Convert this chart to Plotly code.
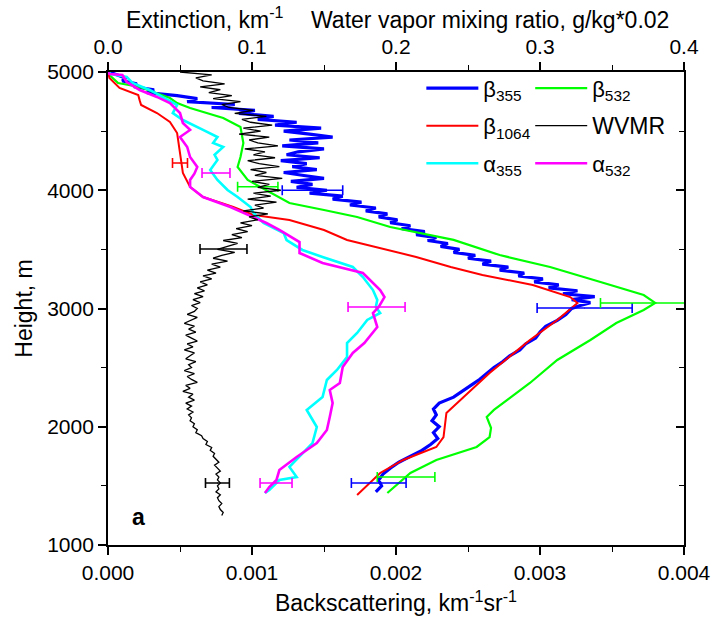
import plotly.graph_objects as go

# ---------------- data ----------------
# beta 355 (backscattering, km^-1 sr^-1), noisy profile: 25 m grid 5000->3000, 50 m grid 2950->1450
b355_top = [0.00001, 0.00006, 0.00012, 0.00010, 0.00020, 0.00018, 0.00032, 0.00027, 0.00048, 0.00062,
            0.00055, 0.00088, 0.00072, 0.00102, 0.00091, 0.00115, 0.00104, 0.00131, 0.00116, 0.00148,
            0.00122, 0.00140, 0.00156, 0.00126, 0.00146, 0.00121, 0.00150, 0.00132, 0.00124, 0.00147,
            0.00120, 0.00138, 0.00128, 0.00145, 0.00122, 0.00136, 0.00150, 0.00127, 0.00142, 0.00131,
            0.00152, 0.00140, 0.00163, 0.00156, 0.00176, 0.00168, 0.00186, 0.00179, 0.00194, 0.00188,
            0.00201, 0.00196, 0.00210, 0.00204, 0.00220, 0.00214, 0.00228, 0.00222, 0.00236, 0.00231,
            0.00244, 0.00240, 0.00255, 0.00250, 0.00266, 0.00260, 0.00278, 0.00272, 0.00289, 0.00285,
            0.00302, 0.00296, 0.00313, 0.00306, 0.00326, 0.00316, 0.00338, 0.00322, 0.00335, 0.00328,
            0.00322]
b355_low = [0.00318, 0.00312, 0.00304, 0.00300, 0.00297, 0.00290, 0.00286, 0.00279, 0.00274, 0.00268,
            0.00263, 0.00258, 0.00252, 0.00246, 0.00240, 0.00230, 0.00226, 0.00228, 0.00225, 0.00230,
            0.00226, 0.00229, 0.00224, 0.00218, 0.00210, 0.00202, 0.00196, 0.00191, 0.00188, 0.00190,
            0.00186]
b355_h = [5000 - 25 * i for i in range(len(b355_top))] + [2950 - 50 * i for i in range(len(b355_low))]
b355 = b355_top + b355_low

# beta 532
b532_h = [5000, 4975, 4907, 4873, 4780, 4737, 4696, 4611, 4535, 4400, 4281, 4197, 4087, 3977, 3892,
          3833, 3774, 3689, 3580, 3452, 3351, 3224, 3114, 3047, 2987, 2877, 2734, 2565, 2370, 2142,
          2083, 1990, 1913, 1829, 1719, 1609, 1440]
b532 = [0.0, 0.00001, 0.00007, 0.00022, 0.00043, 0.00048, 0.00057, 0.00080, 0.00092, 0.00094, 0.00092,
        0.00090, 0.00097, 0.00113, 0.00126, 0.00150, 0.00173, 0.00196, 0.00240, 0.00272, 0.00307,
        0.00342, 0.00372, 0.00380, 0.00372, 0.00353, 0.00335, 0.00312, 0.00293, 0.00268, 0.00263,
        0.00266, 0.00265, 0.00256, 0.00228, 0.00210, 0.00194]

# beta 1064
b1064_h = [5000, 4950, 4865, 4806, 4760, 4721, 4653, 4577, 4484, 4315, 4146, 4028, 3943, 3858, 3791,
           3748, 3664, 3579, 3495, 3436, 3351, 3283, 3199, 3097, 3047, 2903, 2734, 2455, 2252, 2116,
           1913, 1829, 1719, 1609, 1423]
b1064 = [0.0, 0.00001, 0.00008, 0.00021, 0.00022, 0.00023, 0.00034, 0.00043, 0.00048, 0.00050, 0.00052,
         0.00057, 0.00066, 0.00087, 0.00101, 0.00126, 0.00150, 0.00166, 0.00193, 0.00214, 0.00238,
         0.00260, 0.00295, 0.00321, 0.00326, 0.00312, 0.00293, 0.00265, 0.00247, 0.00235, 0.00233,
         0.00228, 0.00205, 0.00189, 0.00173]

# alpha 355 (extinction, km^-1)
a355_h = [5000, 4983, 4958, 4907, 4848, 4789, 4721, 4653, 4594, 4510, 4450, 4400, 4366, 4300, 4256,
          4171, 4087, 4002, 3943, 3858, 3808, 3723, 3638, 3579, 3495, 3436, 3351, 3266, 3156, 3072,
          3013, 2962, 2903, 2793, 2708, 2590, 2480, 2395, 2252, 2142, 1998, 1862, 1777, 1660, 1575,
          1550, 1465, 1440]
a355 = [0.0, 0.002, 0.013, 0.017, 0.029, 0.038, 0.048, 0.045, 0.052, 0.066, 0.076, 0.073, 0.080, 0.074,
        0.076, 0.071, 0.076, 0.083, 0.090, 0.099, 0.101, 0.108, 0.122, 0.124, 0.135, 0.149, 0.170, 0.177,
        0.184, 0.187, 0.186, 0.189, 0.180, 0.173, 0.166, 0.166, 0.159, 0.152, 0.149, 0.138, 0.145, 0.142,
        0.135, 0.126, 0.131, 0.119, 0.112, 0.109]

# alpha 532
a532_h = [5000, 4983, 4975, 4915, 4848, 4789, 4737, 4653, 4569, 4510, 4450, 4366, 4281, 4197, 4140,
          4087, 4028, 3943, 3858, 3791, 3723, 3664, 3562, 3469, 3385, 3300, 3156, 3097, 3013, 2962,
          2843, 2708, 2624, 2505, 2370, 2311, 2200, 2083, 1972, 1862, 1744, 1634, 1550, 1490, 1440]
a532 = [0.0, 0.001, 0.010, 0.013, 0.022, 0.034, 0.043, 0.050, 0.052, 0.057, 0.050, 0.055, 0.057, 0.062,
        0.060, 0.057, 0.057, 0.066, 0.085, 0.097, 0.110, 0.119, 0.133, 0.133, 0.149, 0.177, 0.189, 0.192,
        0.188, 0.184, 0.187, 0.178, 0.170, 0.163, 0.161, 0.154, 0.156, 0.154, 0.152, 0.145, 0.131, 0.119,
        0.117, 0.112, 0.109]

# water vapor mixing ratio (g/kg*0.02), 25 m grid 5000->1250
wv_top = [0.050, 0.072, 0.061, 0.066, 0.081, 0.064, 0.078, 0.070, 0.086, 0.073,
          0.092, 0.079, 0.084, 0.101, 0.088, 0.110, 0.093, 0.099, 0.114, 0.094,
          0.106, 0.091, 0.112, 0.098, 0.104, 0.118, 0.095, 0.109, 0.101, 0.116,
          0.097, 0.105, 0.119, 0.099, 0.110, 0.102, 0.121, 0.100, 0.112, 0.104,
          0.120, 0.101, 0.113, 0.097, 0.117, 0.102, 0.108, 0.094, 0.111, 0.098,
          0.104, 0.092, 0.100, 0.089, 0.097, 0.086, 0.093, 0.080, 0.090, 0.083,
          0.076, 0.088, 0.079, 0.073, 0.083, 0.072, 0.078, 0.069, 0.075, 0.066,
          0.072, 0.064, 0.069, 0.062, 0.067, 0.060, 0.066, 0.059, 0.064, 0.058,
          0.062]
wv_low = [0.060, 0.055, 0.062, 0.057, 0.053, 0.060, 0.056, 0.061, 0.054, 0.058,
          0.062, 0.055, 0.059, 0.053, 0.060, 0.057, 0.054, 0.061, 0.056, 0.058,
          0.053, 0.060, 0.055, 0.058, 0.062, 0.054, 0.057, 0.052, 0.059, 0.056,
          0.060, 0.054, 0.058, 0.055, 0.059, 0.056, 0.058, 0.057, 0.060, 0.059,
          0.062, 0.061, 0.065, 0.066, 0.069, 0.068, 0.072, 0.071, 0.074, 0.073,
          0.075, 0.077, 0.074, 0.076, 0.078, 0.075, 0.077, 0.076, 0.078, 0.076,
          0.077, 0.075, 0.078, 0.076, 0.077, 0.079, 0.077, 0.078, 0.080, 0.079]
wv_h = [5000 - 25 * i for i in range(len(wv_top))] + [2975 - 25 * i for i in range(len(wv_low))]
wv = wv_top + wv_low

# error bars
b355_err_h, b355_err_x, b355_err_dx = [4000, 3004, 1524], [0.00142, 0.00331, 0.00188], [0.00021, 0.00033, 0.00019]
b532_err_h, b532_err_x, b532_err_dx = [4030, 3047, 1575], [0.00104, 0.00380, 0.00207], [0.00014, 0.00038, 0.00020]
b1064_err_h, b1064_err_x, b1064_err_dx = [4230], [0.00050], [0.000052]
a532_err_h, a532_err_x, a532_err_dx = [4146, 3013, 1524], [0.0750, 0.1865, 0.1167], [0.0097, 0.0198, 0.0111]
wv_err_h, wv_err_x, wv_err_dx = [3503, 1524], [0.0802, 0.0760], [0.0163, 0.0083]

BLUE, GREEN, RED, CYAN, MAG, BLK = "#0000FF", "#00FF00", "#FF0000", "#00FFFF", "#FF00FF", "#000000"

fig = go.Figure()

def line(x, y, name, color, width, axis, legend, rank):
    fig.add_trace(go.Scatter(x=x, y=y, mode="lines", name=name, line=dict(color=color, width=width),
                             xaxis=axis, yaxis="y", legend=legend, legendrank=rank, legendgroup=name))

line(b355, b355_h, "β<sub>355</sub>", BLUE, 3.2, "x", "legend", 1)
line(b532, b532_h, "β<sub>532</sub>", GREEN, 2.2, "x", "legend2", 1)
line(b1064, b1064_h, "β<sub>1064</sub>", RED, 2.0, "x", "legend", 2)
line(a355, a355_h, "α<sub>355</sub>", CYAN, 2.6, "x2", "legend", 3)
line(a532, a532_h, "α<sub>532</sub>", MAG, 2.6, "x2", "legend2", 3)
line(wv, wv_h, '<span style="font-size:23px">WVMR</span>', BLK, 1.3, "x2", "legend2", 2)

def errs(x, y, dx, color, axis):
    fig.add_trace(go.Scatter(x=x, y=y, mode="markers", marker=dict(size=1, color=color),
                             error_x=dict(type="data", array=dx, color=color, thickness=1.6, width=5),
                             xaxis=axis, yaxis="y", showlegend=False, hoverinfo="skip"))

errs(b355_err_x, b355_err_h, b355_err_dx, BLUE, "x")
errs(b532_err_x, b532_err_h, b532_err_dx, GREEN, "x")
errs(b1064_err_x, b1064_err_h, b1064_err_dx, RED, "x")
errs(a532_err_x, a532_err_h, a532_err_dx, MAG, "x2")
errs(wv_err_x, wv_err_h, wv_err_dx, BLK, "x2")

# dummy trace so the right-hand mirror axis is drawn
fig.add_trace(go.Scatter(x=[], y=[], xaxis="x", yaxis="y2", showlegend=False))

axcommon = dict(showgrid=False, zeroline=False, showline=True, linecolor="black", linewidth=1.8,
                ticks="outside", ticklen=8, tickwidth=1.6, tickcolor="black",
                tickfont=dict(size=21))

fig.update_layout(
    width=712, height=626,
    margin=dict(l=108, r=28, t=72, b=81, autoexpand=False),
    plot_bgcolor="white", paper_bgcolor="white",
    font=dict(family="Liberation Sans, Arial, sans-serif", size=21, color="black"),
    xaxis=dict(range=[0, 0.004], dtick=0.001, tick0=0, tickformat=".3f",
               minor=dict(dtick=0.0005, ticks="outside", ticklen=5, tickwidth=1.4, tickcolor="black"),
               title=dict(text="Backscattering, km<sup>-1</sup>sr<sup>-1</sup>", standoff=12,
                          font=dict(size=23)),
               **axcommon),
    xaxis2=dict(range=[0, 0.4], dtick=0.1, tick0=0, tickformat=".1f", overlaying="x", side="top",
                anchor="y",
                minor=dict(dtick=0.05, ticks="outside", ticklen=5, tickwidth=1.4, tickcolor="black"),
                **axcommon),
    yaxis=dict(range=[1000, 5000], dtick=1000, tick0=1000,
               minor=dict(dtick=500, ticks="outside", ticklen=5, tickwidth=1.4, tickcolor="black"),
               title=dict(text="Height, m", standoff=8, font=dict(size=23)),
               **axcommon),
    yaxis2=dict(range=[1000, 5000], dtick=1000, overlaying="y", side="right", anchor="x",
                showticklabels=False, showgrid=False, zeroline=False, showline=True,
                linecolor="black", linewidth=1.8, ticks="inside", ticklen=8, tickwidth=1.6,
                tickcolor="black",
                minor=dict(dtick=500, ticks="inside", ticklen=5, tickwidth=1.4, tickcolor="black")),
    legend=dict(x=0.544, y=1.01, xanchor="left", yanchor="top", bgcolor="rgba(0,0,0,0)",
                font=dict(size=22), tracegroupgap=6, traceorder="grouped", itemwidth=52),
    legend2=dict(x=0.733, y=1.01, xanchor="left", yanchor="top", bgcolor="rgba(0,0,0,0)",
                 font=dict(size=22), tracegroupgap=6, traceorder="grouped", itemwidth=52),
    annotations=[
        dict(text="Extinction, km<sup>-1</sup>", xref="paper", yref="paper", x=0.168, y=1.115,
             showarrow=False, font=dict(size=23), xanchor="center", yanchor="middle"),
        dict(text="Water vapor mixing ratio, g/kg*0.02", xref="paper", yref="paper", x=0.663, y=1.11,
             showarrow=False, font=dict(size=23), xanchor="center", yanchor="middle"),
        dict(text="<b>a</b>", xref="x", yref="y", x=0.00021, y=1240, showarrow=False,
             font=dict(size=23), xanchor="center", yanchor="middle"),
    ],
)

fig.write_html("out.html")
